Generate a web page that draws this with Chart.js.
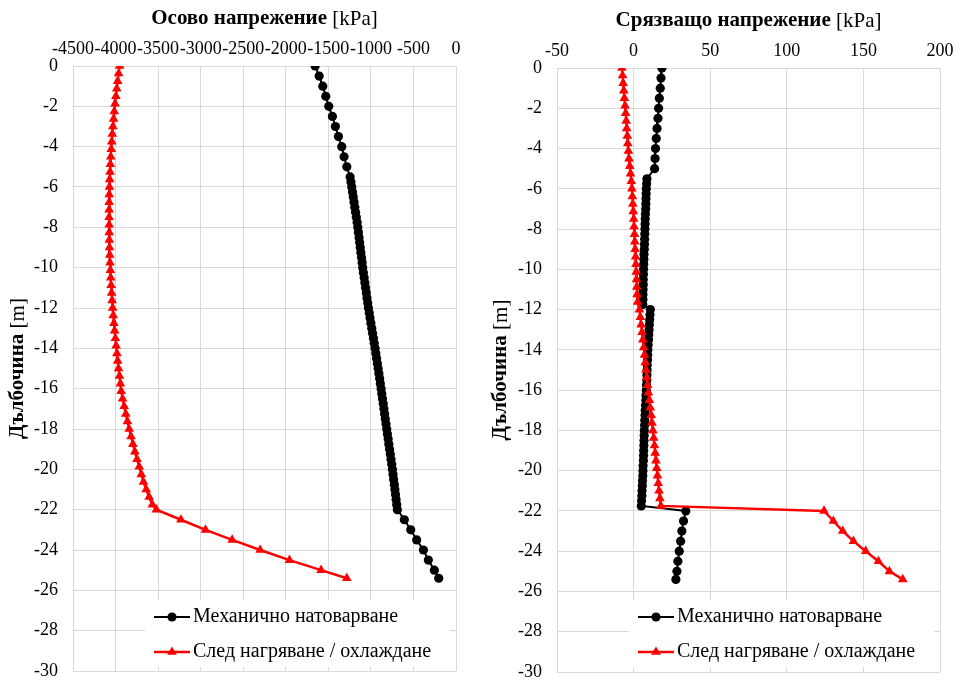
<!DOCTYPE html>
<html><head><meta charset="utf-8">
<script src="https://cdn.jsdelivr.net/npm/chart.js@4/dist/chart.umd.min.js"></script>
<style>
body{margin:0;background:#fff;}
#w{position:relative;width:961px;height:684px;background:#fff;}
#c1{position:absolute;left:0;top:0;}
#c2{position:absolute;left:480px;top:0;}
</style></head><body>
<div id="w"><canvas id="c1" width="480" height="684"></canvas><canvas id="c2" width="481" height="684"></canvas></div>
<script>
// ---- depths (y values) ----
const blackDepth = [0,-0.5,-1,-1.5,-2,-2.5,-3,-3.5,-4,-4.5,-5,-5.5,
 -5.75,-6,-6.25,-6.5,-6.75,-7,-7.25,-7.5,-7.75,-8,-8.25,-8.5,-8.75,-9,-9.25,-9.5,-9.75,-10,
 -10.25,-10.5,-10.75,-11,-11.25,-11.5,-11.75,-12,-12.25,-12.5,-12.75,-13,-13.25,-13.5,-13.75,-14,
 -14.25,-14.5,-14.75,-15,-15.25,-15.5,-15.75,-16,-16.25,-16.5,-16.75,-17,-17.25,-17.5,-17.75,-18,
 -18.25,-18.5,-18.75,-19,-19.25,-19.5,-19.75,-20,-20.25,-20.5,-20.75,-21,-21.25,-21.5,-21.75,
 -22,-22.5,-23,-23.5,-24,-24.5,-25,-25.4];
const redDepth = [0,-0.375,-0.75,-1.125,-1.5,-1.875,-2.25,-2.625,-3,-3.375,-3.75,-4.125,-4.5,-4.875,
 -5.25,-5.625,-6,-6.375,-6.75,-7.125,-7.5,-7.875,-8.25,-8.625,-9,-9.375,-9.75,-10.125,-10.5,-10.875,
 -11.25,-11.625,-12,-12.375,-12.75,-13.125,-13.5,-13.875,-14.25,-14.625,-15,-15.375,-15.75,-16.125,
 -16.5,-16.875,-17.25,-17.625,-18,-18.375,-18.75,-19.125,-19.5,-19.875,-20.25,-20.625,-21,-21.375,-21.75,
 -22,-22.5,-23,-23.5,-24,-24.5,-25,-25.4];

// ---- axial stress [kPa] ----
const axialMech = [-1655,-1608,-1565,-1530,-1495,-1452,-1417,-1381,-1342,-1315,-1283,-1244,
 -1234,-1225,-1216,-1207,-1198,-1189,-1180,-1171,-1162,-1154,-1147,-1139,-1132,-1125,-1118,-1110,-1103,-1096,
 -1088,-1079,-1071,-1063,-1054,-1046,-1037,-1029,-1019,-1010,-1000,-990,-980,-970,-961,-951,
 -942,-933,-924,-915,-906,-897,-889,-880,-872,-864,-855,-847,-839,-831,-822,-814,
 -806,-797,-789,-780,-772,-764,-755,-747,-740,-733,-725,-718,-711,-704,-697,
 -689,-607,-532,-462,-383,-325,-254,-203];
const axialTherm = [-3952,-3964,-3975,-3986,-3996,-4006,-4015,-4023,-4031,-4038,-4045,-4051,-4056,-4061,
 -4065,-4069,-4072,-4074,-4075,-4076,-4076,-4075,-4074,-4073,-4071,-4068,-4065,-4061,-4057,-4052,
 -4046,-4040,-4034,-4027,-4019,-4011,-4002,-3993,-3984,-3975,-3965,-3954,-3943,-3934,
 -3917,-3899,-3880,-3860,-3840,-3818,-3796,-3773,-3748,-3722,-3697,-3672,-3640,-3605,-3568,
 -3520,-3232,-2943,-2630,-2301,-1957,-1585,-1283];

// ---- shear stress [kPa] ----
const shearMech = [18.5,17.9,17.4,16.8,16.3,15.9,15.3,14.8,14.3,14.0,13.7,8.7,
 8.5,8.3,8.2,8.1,8.0,7.9,7.7,7.6,7.5,7.4,7.3,7.2,7.1,7.0,6.8,6.7,6.6,6.5,
 6.4,6.3,6.3,6.2,6.1,6.1,6.0,10.9,10.7,10.5,10.3,10.1,9.9,9.7,9.5,9.3,
 9.2,9.1,8.9,8.8,8.7,8.6,8.4,8.3,8.1,8.0,7.8,7.6,7.5,7.3,7.2,7.0,
 6.9,6.8,6.7,6.6,6.5,6.4,6.2,6.1,6.0,5.8,5.7,5.5,5.4,5.2,5.0,
 34.1,32.6,31.5,30.7,29.8,28.9,28.3,27.6];
const shearTherm = [-7.6,-7.2,-6.8,-6.4,-6.0,-5.6,-5.2,-4.8,-4.5,-4.1,-3.8,-3.4,-3.0,-2.5,
 -2.0,-1.5,-1.1,-0.8,-0.5,-0.2,0.1,0.3,0.6,0.8,1.0,1.3,1.5,1.7,1.9,2.1,
 2.3,2.6,3.8,4.4,4.9,5.5,6.0,6.6,7.1,7.6,8.1,8.6,9.1,9.7,
 10.3,10.9,11.5,12.0,12.6,13.1,13.6,14.1,14.6,15.1,15.6,16.1,16.6,17.2,17.8,
 124.3,130.4,136.5,143.5,151.5,159.8,167.0,175.7];

const seriesNames = ['Механично натоварване', 'След нагряване / охлаждане'];
const axialTicks = {min:-4500, max:0, step:500};
const shearTicks = {min:-50, max:200, step:50};
const depthTicks = {min:-30, max:0, step:2};

const SERIF = "'Liberation Serif','Times New Roman',serif";
const GRID = '#d9d9d9';
const TITLE_SIZE = 21;

function pts(xs, ys){ return xs.map((v,i)=>({x:v, y:ys[i]})); }

const deco = {
  id:'deco',
  afterDraw(chart, args, o){
    const ctx = chart.ctx, a = chart.chartArea;
    ctx.save();
    function mixed(bold, normal, size){
      ctx.font = 'bold '+size+'px '+SERIF;
      const w1 = ctx.measureText(bold).width;
      ctx.font = size+'px '+SERIF;
      const w2 = ctx.measureText(normal).width;
      return {w1, w2, w: w1+w2};
    }
    ctx.fillStyle = '#000';
    ctx.textBaseline = 'middle';
    ctx.textAlign = 'left';
    let m = mixed(o.titleBold, o.titleNormal, TITLE_SIZE);
    let cx = (a.left+a.right)/2, cy = a.top - 47;
    ctx.font = 'bold '+TITLE_SIZE+'px '+SERIF;
    ctx.fillText(o.titleBold, cx - m.w/2, cy);
    ctx.font = TITLE_SIZE+'px '+SERIF;
    ctx.fillText(o.titleNormal, cx - m.w/2 + m.w1, cy);
    // y title rotated
    m = mixed('Дълбочина', ' [m]', TITLE_SIZE);
    ctx.save();
    ctx.translate(o.yTitleX, (a.top+a.bottom)/2);
    ctx.rotate(-Math.PI/2);
    ctx.font = 'bold '+TITLE_SIZE+'px '+SERIF;
    ctx.fillText('Дълбочина', -m.w/2, 0);
    ctx.font = TITLE_SIZE+'px '+SERIF;
    ctx.fillText(' [m]', -m.w/2 + m.w1, 0);
    ctx.restore();
    // legend
    const bx = a.left + 72, br = a.right - 6;
    ctx.fillStyle = '#fff';
    ctx.fillRect(bx, 600, br-bx, 67);
    const ys = [617, 652];
    chart.data.datasets.forEach((ds, i)=>{
      const y = ys[i];
      ctx.strokeStyle = ds.borderColor;
      ctx.lineWidth = ds.borderWidth;
      ctx.beginPath(); ctx.moveTo(bx+9, y); ctx.lineTo(bx+45, y); ctx.stroke();
      ctx.fillStyle = ds.pointBackgroundColor;
      const mx = bx+27;
      ctx.beginPath();
      if (ds.pointStyle === 'triangle') {
        const r = ds.pointRadius;
        for (let k=0;k<3;k++){
          const ang = k*2*Math.PI/3;
          const px = mx + Math.sin(ang)*r, py = y - Math.cos(ang)*r;
          if (k===0) ctx.moveTo(px,py); else ctx.lineTo(px,py);
        }
        ctx.closePath();
      } else {
        ctx.arc(mx, y, ds.pointRadius, 0, Math.PI*2);
      }
      ctx.fill();
      ctx.fillStyle = '#000';
      ctx.font = '20px '+SERIF;
      ctx.textAlign = 'left';
      ctx.textBaseline = 'middle';
      ctx.fillText(seriesNames[i], bx+48, y);
    });
    ctx.restore();
  }
};

function makeChart(id, xMech, xTherm, xt, opt){
  return new Chart(document.getElementById(id), {
    type:'scatter',
    data:{datasets:[
      {label:seriesNames[0], data:pts(xMech, blackDepth), showLine:true,
       borderColor:'#000', backgroundColor:'#000', pointBackgroundColor:'#000', pointBorderColor:'#000',
       borderWidth:2, pointRadius:4.6, pointBorderWidth:0, pointStyle:'circle', order:1},
      {label:seriesNames[1], data:pts(xTherm, redDepth), showLine:true,
       borderColor:'#ff0000', backgroundColor:'#ff0000', pointBackgroundColor:'#ff0000', pointBorderColor:'#ff0000',
       borderWidth:2.5, pointRadius:5.6, pointBorderWidth:0, pointStyle:'triangle', order:0}
    ]},
    options:{
      responsive:false, animation:false, events:[],
      layout:{padding:opt.pad},
      plugins:{legend:{display:false}, tooltip:{enabled:false}, deco:opt.deco},
      scales:{
        x:{type:'linear', position:'top', min:xt.min, max:xt.max,
           ticks:{stepSize:xt.step, autoSkip:false, maxRotation:0, color:'#000', padding:6,
                  font:{family:SERIF, size:18}, callback:v=>String(v)},
           grid:{color:GRID, drawTicks:false, lineWidth:1},
           border:{color:GRID},
           afterFit:s=>{s.height = opt.top; s.paddingLeft = 0; s.paddingRight = 0;}},
        y:{type:'linear', min:depthTicks.min, max:depthTicks.max,
           ticks:{stepSize:depthTicks.step, autoSkip:false, color:'#000', padding:15,
                  font:{family:SERIF, size:18}, callback:v=>String(v)},
           grid:{color:GRID, drawTicks:false, lineWidth:1},
           border:{color:GRID},
           afterFit:s=>{s.width = opt.left; s.paddingTop = 0; s.paddingBottom = 0;}}
      }
    },
    plugins:[deco]
  });
}

makeChart('c1', axialMech, axialTherm, axialTicks,
  {pad:{left:0,right:24,top:0,bottom:13}, top:66, left:73,
   deco:{titleBold:'Осово напрежение', titleNormal:' [kPa]', yTitleX:18}});
makeChart('c2', shearMech, shearTherm, shearTicks,
  {pad:{left:0,right:21,top:0,bottom:12}, top:68, left:77,
   deco:{titleBold:'Срязващо напрежение', titleNormal:' [kPa]', yTitleX:21}});
</script>
</body></html>
